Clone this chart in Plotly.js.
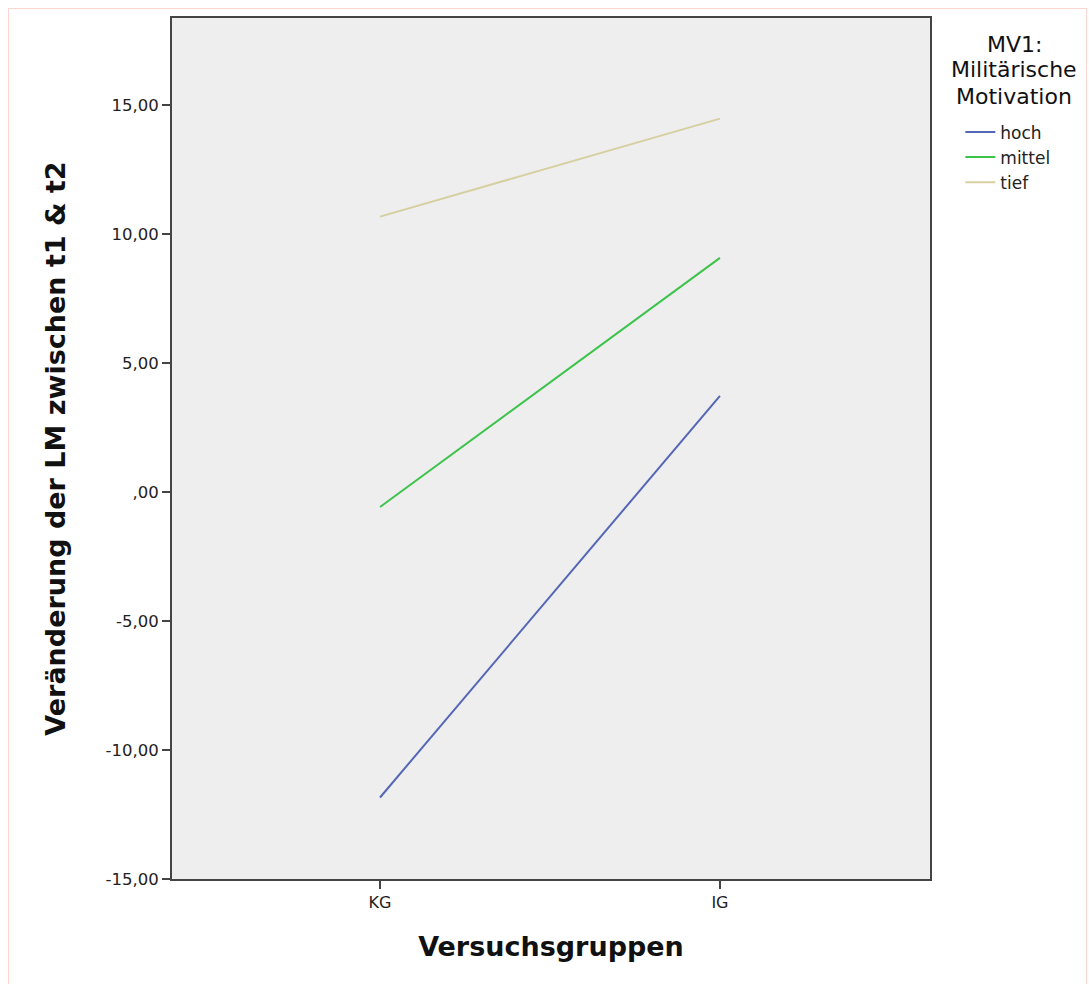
<!DOCTYPE html>
<html>
<head>
<meta charset="utf-8">
<script src="https://cdn.plot.ly/plotly-3.0.1.min.js"></script>
<style>
html,body{margin:0;padding:0;background:#fff;}
#wrap{position:relative;width:1089px;height:984px;}
#chart{width:1089px;height:984px;}
#frame{position:absolute;left:8px;top:8px;width:1079px;height:990px;border:1px solid #fbd6d1;pointer-events:none;box-sizing:border-box;}
</style>
</head>
<body>
<div id="wrap"><div id="chart"></div><div id="frame"></div></div>
<script>
const categories = ["KG", "IG"];
const hoch = [-11.84, 3.73];
const mittel = [-0.58, 9.08];
const tief = [10.68, 14.48];
const seriesNames = ["hoch", "mittel", "tief"];
const yTickVals = [-15, -10, -5, 0, 5, 10, 15];
const yTickText = ["-15,00", "-10,00", "-5,00", ",00", "5,00", "10,00", "15,00"];
const legendTitleLines = ["MV1:", "Militärische", "Motivation"];
const colors = ["#5466b5", "#3cc34a", "#d6d0a0"];

const font = "'DejaVu Sans', sans-serif";
const traces = [hoch, mittel, tief].map((vals, i) => ({
  x: categories, y: vals, type: 'scatter', mode: 'lines',
  name: seriesNames[i], line: {color: colors[i], width: 2}
}));

const plotTop = 18, plotH = 861;
const titleCentersPx = [45, 70, 96];
const annotations = legendTitleLines.map((t, i) => ({
  xref: 'paper', yref: 'paper', x: 1.111, y: 1 - (titleCentersPx[i] - plotTop) / plotH,
  xanchor: 'center', yanchor: 'middle', text: t, showarrow: false,
  font: {family: font, size: 22, color: '#111'}
}));

const layout = {
  width: 1089, height: 984,
  margin: {l: 172, r: 159, t: 18, b: 105},
  paper_bgcolor: '#ffffff', plot_bgcolor: '#eeeeee',
  showlegend: true,
  legend: {x: 1.04, xanchor: 'left', y: 0.888, yanchor: 'top',
    font: {family: font, size: 17, color: '#222'}, tracegroupgap: 0,
    bgcolor: 'rgba(0,0,0,0)'},
  xaxis: {type: 'category', range: [-0.612, 1.618], showgrid: false, zeroline: false,
    showline: true, mirror: true, linecolor: '#444', linewidth: 2,
    ticks: 'outside', ticklen: 8, tickcolor: '#444', tickwidth: 2,
    tickfont: {family: font, size: 16, color: '#222'},
    title: {text: 'Versuchsgruppen', font: {family: font, size: 27, color: '#111', weight: 'bold'}, standoff: 26}},
  yaxis: {range: [-15, 18.38], showgrid: false, zeroline: false,
    showline: true, mirror: true, linecolor: '#444', linewidth: 2,
    ticks: 'outside', ticklen: 8, tickcolor: '#444', tickwidth: 2,
    tickvals: yTickVals, ticktext: yTickText,
    tickfont: {family: font, size: 16.5, color: '#222'},
    title: {text: 'Veränderung der LM zwischen t1 & t2', font: {family: font, size: 27, color: '#111', weight: 'bold'}, standoff: 32}},
  annotations: annotations
};
Plotly.newPlot('chart', traces, layout, {displayModeBar: false, staticPlot: true});
</script>
</body>
</html>
